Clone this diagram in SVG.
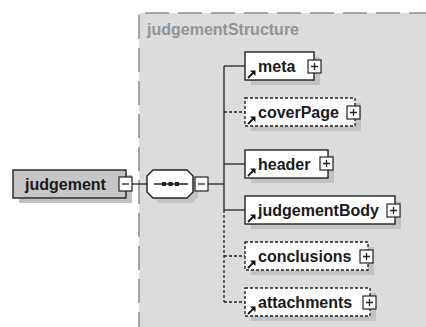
<svg xmlns="http://www.w3.org/2000/svg" width="426" height="327" viewBox="0 0 426 327">
  <style>
    .bg { fill: #dcdcdc; }
    .frame { stroke: #8c8c8c; stroke-width: 1.5; stroke-dasharray: 24 9; fill: none; }
    .title { font-family: "Liberation Sans", Arial, sans-serif; font-size: 16px; font-weight: bold; fill: #939393; }
    .shadow { fill: #c2c2c2; }
    .box { fill: #ffffff; stroke: #222222; stroke-width: 1.4; }
    .opt { stroke-dasharray: 3 2; }
    .root { fill: #c6c6c6; stroke: #222222; stroke-width: 1.4; }
    .label { font-family: "Liberation Sans", Arial, sans-serif; font-size: 16px; font-weight: bold; fill: #1a1a1a; }
    .btn { fill: #ffffff; stroke: #222222; stroke-width: 1.2; }
    .sign { stroke: #222222; stroke-width: 1.3; fill: none; }
    .wire { stroke: #222222; stroke-width: 1.3; fill: none; }
    .wire.opt { stroke-dasharray: 3 2; }
    .ref { stroke: #111111; stroke-width: 1.8; fill: none; }
  </style>
  <defs>
    <!-- reference arrow shown in the lower-left corner of each child element -->
    <g id="refArrow">
      <path class="ref" d="M0 0 L5 -5"/>
      <path d="M2 -7.5 L7.5 -7.5 L7.5 -2 Z" fill="#111111"/>
    </g>
    <g id="plus">
      <rect class="btn" x="0" y="0" width="13" height="13"/>
      <path class="sign" d="M3 6.5 H10 M6.5 3 V10"/>
    </g>
    <g id="minus">
      <rect class="btn" x="0" y="0" width="13" height="14"/>
      <path class="sign" d="M3 7 H10"/>
    </g>
  </defs>

  <!-- complex type area -->
  <rect class="bg" x="139" y="13" width="287" height="314"/>
  <path class="frame" d="M145 13 H426"/>
  <path class="frame" d="M139 15 V327"/>
  <text class="title" x="147" y="35">judgementStructure</text>

  <!-- connectors -->
  <g id="connectors">
    <path class="wire" d="M131 184 H147"/>
    <path class="wire" d="M208 184 H224"/>
    <path class="wire" d="M224 66 V210"/>
    <path class="wire opt" d="M224 210 V302"/>
    <path class="wire" d="M224 66 H245"/>
    <path class="wire opt" d="M224 112 H245"/>
    <path class="wire" d="M224 164 H245"/>
    <path class="wire" d="M224 210 H245"/>
    <path class="wire opt" d="M224 256 H245"/>
    <path class="wire opt" d="M224 302 H245"/>
  </g>

  <!-- root element -->
  <g id="judgement">
    <rect class="shadow" x="19" y="175" width="113" height="28"/>
    <rect class="root" x="13" y="170" width="113" height="28"/>
    <text class="label" x="25" y="190">judgement</text>
    <use href="#minus" x="119" y="177"/>
  </g>

  <!-- sequence compositor -->
  <g id="sequence">
    <path class="shadow" d="M159 175 H192 L198 181 V197 L192 203 H159 L153 197 V181 Z"/>
    <path class="box" d="M153 170 H187 L193 176 V192 L187 198 H153 L147 192 V176 Z"/>
    <path class="wire" d="M154 184 H188"/>
    <rect x="162" y="182" width="4" height="4" fill="#222222"/>
    <rect x="168.5" y="182" width="4" height="4" fill="#222222"/>
    <rect x="175" y="182" width="4" height="4" fill="#222222"/>
    <use href="#minus" x="195" y="177"/>
  </g>

  <g id="meta">
    <rect class="shadow" x="251" y="57" width="69" height="28"/>
    <rect class="box" x="245" y="52" width="69" height="28"/>
    <use href="#refArrow" x="248" y="78"/>
    <text class="label" x="258" y="71.5">meta</text>
    <use href="#plus" x="308" y="60"/>
  </g>

  <g id="coverPage">
    <rect class="shadow" x="251" y="103" width="110" height="28"/>
    <rect class="box opt" x="245" y="98" width="110" height="28"/>
    <use href="#refArrow" x="248" y="124"/>
    <text class="label" x="258" y="117.5">coverPage</text>
    <use href="#plus" x="347" y="106"/>
  </g>

  <g id="header">
    <rect class="shadow" x="251" y="155" width="83" height="28"/>
    <rect class="box" x="245" y="150" width="83" height="28"/>
    <use href="#refArrow" x="248" y="176"/>
    <text class="label" x="258" y="169.5">header</text>
    <use href="#plus" x="320" y="157"/>
  </g>

  <g id="judgementBody">
    <rect class="shadow" x="251" y="201" width="150" height="28"/>
    <rect class="box" x="245" y="196" width="150" height="28"/>
    <use href="#refArrow" x="248" y="222"/>
    <text class="label" x="258" y="215.5">judgementBody</text>
    <use href="#plus" x="387" y="204"/>
  </g>

  <g id="conclusions">
    <rect class="shadow" x="251" y="247" width="123" height="28"/>
    <rect class="box opt" x="245" y="242" width="123" height="28"/>
    <use href="#refArrow" x="248" y="268"/>
    <text class="label" x="258" y="261.5">conclusions</text>
    <use href="#plus" x="360" y="250"/>
  </g>

  <g id="attachments">
    <rect class="shadow" x="251" y="293" width="125" height="28"/>
    <rect class="box opt" x="245" y="288" width="125" height="28"/>
    <use href="#refArrow" x="248" y="314"/>
    <text class="label" x="258" y="307.5">attachments</text>
    <use href="#plus" x="363" y="296"/>
  </g>
</svg>
